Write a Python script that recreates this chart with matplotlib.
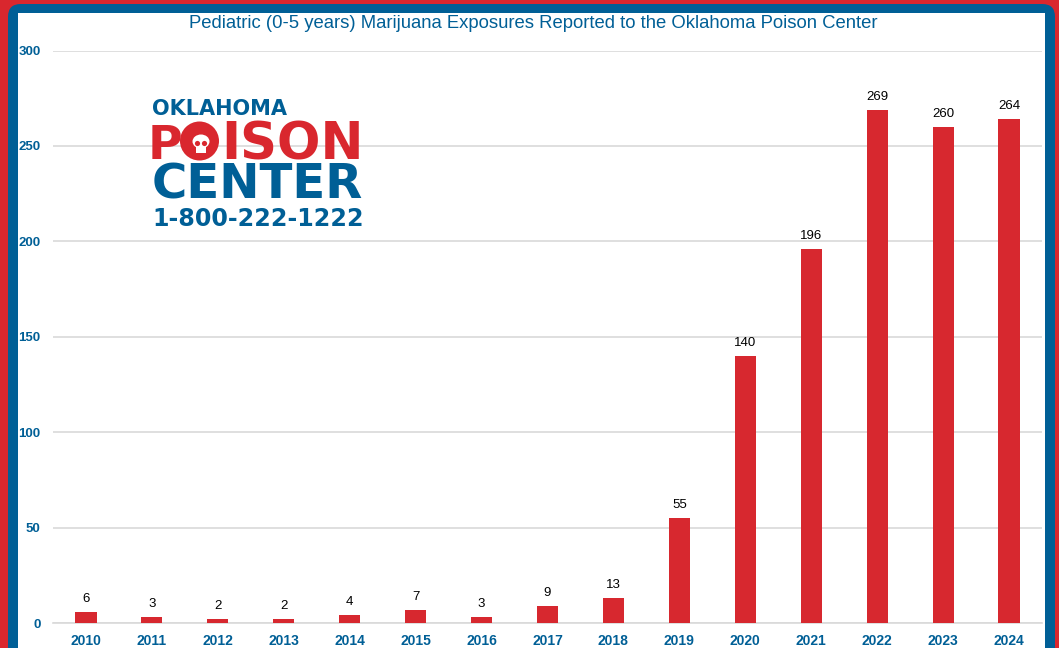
import matplotlib.pyplot as plt
from matplotlib.patches import FancyBboxPatch, Rectangle, Circle, Ellipse
from matplotlib.transforms import IdentityTransform

years = ['2010', '2011', '2012', '2013', '2014', '2015', '2016', '2017',
         '2018', '2019', '2020', '2021', '2022', '2023', '2024']
exposures = [6, 3, 2, 2, 4, 7, 3, 9, 13, 55, 140, 196, 269, 260, 264]
yticks = [0, 50, 100, 150, 200, 250, 300]

title = 'Pediatric (0-5 years) Marijuana Exposures Reported to the Oklahoma Poison Center'

BLUE = '#005f96'
RED = '#d9272e'
W, H = 1059, 648
plt.rcParams['font.family'] = ['Liberation Sans', 'DejaVu Sans']

fig = plt.figure(figsize=(W / 100, H / 100), dpi=100)
fig.patch.set_facecolor(RED)

# blue frame with rounded top, white inside
frame = FancyBboxPatch((8 / W, -0.1), (1055 - 8) / W, (H - 4) / H + 0.1,
                       boxstyle='round,pad=0,rounding_size=0.012',
                       transform=fig.transFigure, facecolor=BLUE,
                       edgecolor='none', zorder=0, mutation_aspect=W / H)
fig.patches.append(frame)
inner = Rectangle((18 / W, -0.1), (1045 - 18) / W, (H - 13) / H + 0.1,
                  transform=fig.transFigure, facecolor='white',
                  edgecolor='none', zorder=0.5)
fig.patches.append(inner)

ax = fig.add_axes([53 / W, (H - 623) / H, (1042 - 53) / W, (623 - 50.5) / H])
ax.set_facecolor('none')
ax.set_zorder(2)

x = list(range(len(years)))
bars = ax.bar(x, exposures, width=0.32, color='#d7282f', zorder=3)
for xi, v in zip(x, exposures):
    ax.annotate(str(v), (xi, v), xytext=(0, 5), textcoords='offset points',
                ha='center', va='bottom', fontsize=9.5, color='black')

ax.set_xlim(-0.5, len(years) - 0.5)
ax.set_ylim(0, 300)
ax.set_yticks(yticks)
ax.set_yticklabels([str(t) for t in yticks], fontsize=9.5, fontweight='bold', color=BLUE)
ax.set_xticks(x)
ax.set_xticklabels(years, fontsize=10, fontweight='bold', color=BLUE)
ax.tick_params(axis='y', length=0, pad=9)
ax.tick_params(axis='x', length=0, pad=8)
ax.grid(axis='y', color='#d9d9d9', linewidth=1.2, zorder=0)
for s in ['top', 'right', 'left']:
    ax.spines[s].set_visible(False)
ax.spines['bottom'].set_color('#d9d9d9')
ax.spines['bottom'].set_linewidth(1.2)

fig.text(533 / W, 1 - 23.5 / H, title, ha='center', va='center',
         fontsize=13.3, color=BLUE)

# logo: (text, x left, baseline y, fit width or None, colour)
renderer = fig.canvas.get_renderer()
logo = [('OKLAHOMA', 152, 115, 135, BLUE, None),
        ('P', 148, 159, None, RED, 34),
        ('ISON', 221, 159, 142, RED, None),
        ('CENTER', 152, 199, 211, BLUE, None),
        ('1-800-222-1222', 152, 226, 212, BLUE, None)]
for txt, xl, yb, width, col, fs in logo:
    t = fig.text(xl / W, 1 - yb / H, txt, ha='left', va='baseline',
                 fontsize=fs or 20, fontweight='bold', color=col, zorder=3,
                 family='DejaVu Sans')
    if width:
        w = t.get_window_extent(renderer).width
        t.set_fontsize(20 * width / w)

# skull "O"
px = IdentityTransform()
def pt(xp, yp):
    return (xp, H - yp)
fig.add_artist(Circle(pt(199.5, 141), 19.5, transform=px, facecolor=RED,
                      edgecolor='none', zorder=4))
fig.add_artist(Ellipse(pt(201, 141.5), 17, 14, transform=px, facecolor='white',
                       edgecolor='none', zorder=5))
fig.add_artist(Rectangle(pt(196, 153), 10, 8, transform=px, facecolor='white',
                         edgecolor='none', zorder=5))
for ex in (197.5, 204.5):
    fig.add_artist(Circle(pt(ex, 143.5), 2.6, transform=px, facecolor=RED,
                          edgecolor='none', zorder=6))

fig.savefig('out.png', dpi=100, facecolor=fig.get_facecolor())
